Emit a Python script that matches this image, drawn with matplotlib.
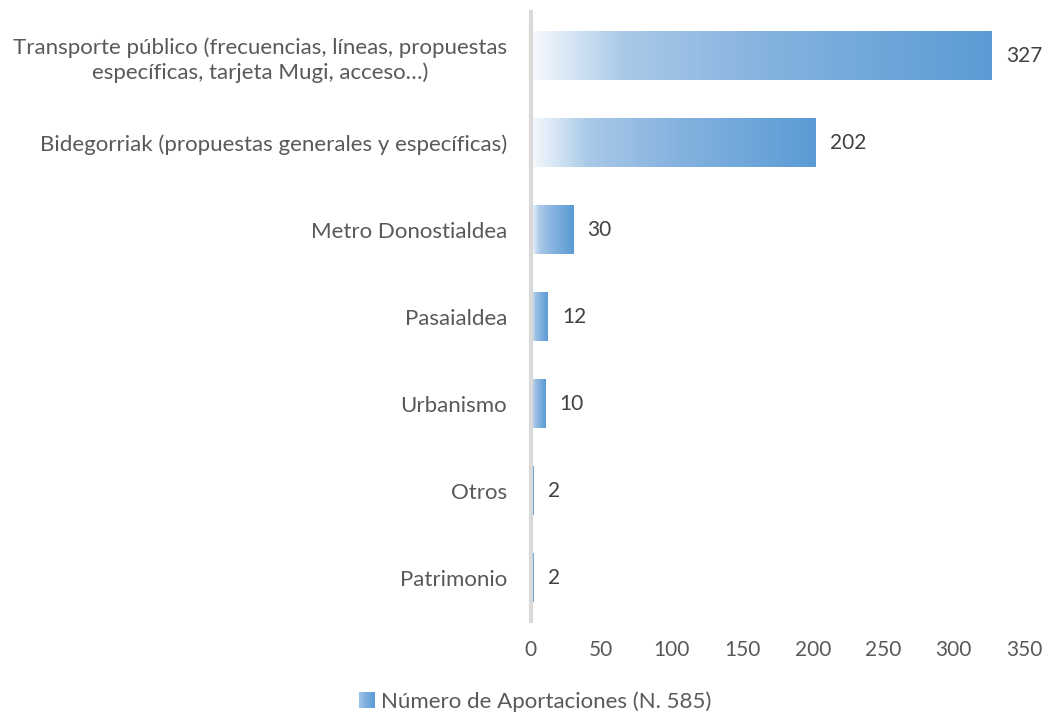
import matplotlib
matplotlib.use("Agg")
import matplotlib.pyplot as plt
import numpy as np
from matplotlib.colors import LinearSegmentedColormap
from matplotlib.patches import Rectangle
from matplotlib.legend_handler import HandlerBase

categories = [
    "Transporte público (frecuencias, líneas, propuestas\nespecíficas, tarjeta Mugi, acceso…)",
    "Bidegorriak (propuestas generales y específicas)",
    "Metro Donostialdea",
    "Pasaialdea",
    "Urbanismo",
    "Otros",
    "Patrimonio",
]
values = [327, 202, 30, 12, 10, 2, 2]
xticks = [0, 50, 100, 150, 200, 250, 300, 350]
legend_label = "Número de Aportaciones (N. 585)"

plt.rcParams['font.family'] = ['Lato', 'DejaVu Sans']
FS = 15
FS_LAB = 16

cmap = LinearSegmentedColormap.from_list(
    "grad", [(0.0, "#f7fafd"), (0.2, "#a9c9e8"), (0.5, "#86b3df"), (1.0, "#5b9bd5")])

fig = plt.figure(figsize=(10.45, 7.13), dpi=100)
ax = fig.add_axes([0.508, 0.129, 0.472, 0.854])

n = len(categories)
ypos = np.arange(n)
bar_h = 0.56
grad = np.linspace(0, 1, 256).reshape(1, -1)
bars = ax.barh(ypos, values, height=bar_h, color="none", edgecolor="none")
for b, v in zip(bars, values):
    x0, y0 = b.get_x(), b.get_y()
    w, h = b.get_width(), b.get_height()
    ax.imshow(grad, cmap=cmap, aspect="auto", extent=[x0, x0 + w, y0 + h, y0],
              interpolation="antialiased", interpolation_stage="rgba", zorder=2)
    ax.text(v + 10, b.get_y() + h / 2, str(v), va="center", ha="left",
            fontsize=FS, color="#404040")

ax.set_xlim(0, 350)
ax.set_ylim(n - 0.5, -0.5)
ax.set_xticks(xticks)
ax.set_yticks(ypos)
ax.set_yticklabels(categories, fontsize=FS_LAB, color="#595959", ha="right",
                   multialignment="center", linespacing=1.3)
ax.tick_params(axis="y", length=0, pad=17)
ax.tick_params(axis="x", length=0, labelsize=FS, labelcolor="#595959", pad=14)
for s in ["top", "right", "bottom"]:
    ax.spines[s].set_visible(False)
ax.spines["left"].set_color("#d9d9d9")
ax.spines["left"].set_linewidth(3)
ax.spines["left"].set_zorder(3)

class GradHandler(HandlerBase):
    def create_artists(self, legend, orig_handle, xdescent, ydescent, width,
                       height, fontsize, trans):
        arts = []
        nseg = 20
        s = height * 1.0
        x0 = width - s
        for i in range(nseg):
            c = cmap(0.3 + 0.7 * i / (nseg - 1))
            r = Rectangle((x0 + i * s / nseg - xdescent, -ydescent),
                          s / nseg + 0.01, s, facecolor=c, edgecolor="none",
                          transform=trans)
            arts.append(r)
        return arts

handle = Rectangle((0, 0), 1, 1)
leg = fig.legend([handle], [legend_label], handler_map={Rectangle: GradHandler()},
                 loc="center", bbox_to_anchor=(0.513, 0.016), frameon=False,
                 fontsize=FS_LAB, handlelength=0.65, handletextpad=0.3)
for t in leg.get_texts():
    t.set_color("#595959")

fig.savefig("out.png", dpi=100)
